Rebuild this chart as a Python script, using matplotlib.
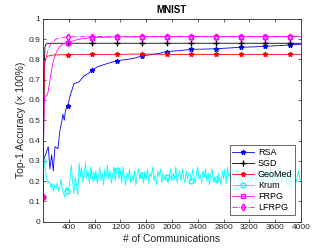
import matplotlib
matplotlib.use("Agg")
import matplotlib.pyplot as plt
import numpy as np

plt.rcParams['font.family'] = ['Liberation Sans', 'DejaVu Sans']

title = "MNIST"
xlabel = "# of Communications"
ylabel = "Top-1 Accuracy (× 100%)"
xticks = [400, 800, 1200, 1600, 2000, 2400, 2800, 3200, 3600, 4000]
yticks = [0, 0.1, 0.2, 0.3, 0.4, 0.5, 0.6, 0.7, 0.8, 0.9, 1.0]
ytick_labels = ["0", "0.1", "0.2", "0.3", "0.4", "0.5", "0.6", "0.7", "0.8", "0.9", "1"]

marker_x = [0, 383, 766, 1149, 1532, 1915, 2298, 2681, 3064, 3447, 3830]

rsa_x = [0, 5, 40, 82, 108, 135, 160, 186, 232, 263, 290, 310, 330, 350, 383, 420, 480, 560,
         640, 700, 766, 850, 950, 1050, 1149, 1300, 1400, 1532, 1700, 1800, 1915, 2100, 2298,
         2500, 2681, 2900, 3064, 3250, 3447, 3650, 3830, 4000]
rsa_y = [0.12, 0.30, 0.33, 0.37, 0.26, 0.33, 0.25, 0.37, 0.36, 0.45, 0.49, 0.53, 0.50, 0.55,
         0.571, 0.62, 0.68, 0.69, 0.72, 0.73, 0.748, 0.765, 0.775, 0.785, 0.794, 0.80, 0.805,
         0.817, 0.825, 0.83, 0.839, 0.843, 0.850, 0.851, 0.853, 0.857, 0.86, 0.862, 0.865,
         0.868, 0.872, 0.875]

sgd_x = [0, 10, 20, 30, 45, 70, 120, 383, 766, 1149, 1532, 1915, 2298, 2681, 3064, 3447, 3830, 4000]
sgd_y = [0.12, 0.40, 0.75, 0.86, 0.875, 0.878, 0.88, 0.88, 0.88, 0.88, 0.88, 0.88, 0.88, 0.88,
         0.88, 0.88, 0.88, 0.88]

geo_x = [0, 10, 20, 35, 60, 150, 383, 766, 1149, 1532, 1915, 2298, 2681, 3064, 3447, 3830, 4000]
geo_y = [0.12, 0.50, 0.75, 0.80, 0.815, 0.822, 0.824, 0.825, 0.825, 0.827, 0.825, 0.825,
         0.825, 0.825, 0.825, 0.825, 0.825]

krum_x = list(range(0, 4001, 20))
krum_y = [
    0.30, 0.28, 0.25, 0.21, 0.19, 0.20, 0.17, 0.19, 0.15, 0.18,
    0.16, 0.19, 0.15, 0.17, 0.21, 0.16, 0.14, 0.12, 0.17, 0.15,
    0.155, 0.21, 0.28, 0.19, 0.14, 0.22, 0.18, 0.13, 0.29, 0.22,
    0.27, 0.19, 0.24, 0.29, 0.21, 0.25, 0.19, 0.27, 0.23, 0.195,
    0.21, 0.25, 0.19, 0.22, 0.27, 0.20, 0.24, 0.18, 0.26, 0.22,
    0.28, 0.21, 0.25, 0.19, 0.23, 0.27, 0.20, 0.255, 0.26, 0.21,
    0.25, 0.19, 0.27, 0.22, 0.18, 0.24, 0.21, 0.26, 0.19, 0.23,
    0.20, 0.25, 0.18, 0.23, 0.26, 0.21, 0.24, 0.228, 0.19, 0.25,
    0.21, 0.26, 0.19, 0.24, 0.22, 0.27, 0.20, 0.23, 0.18, 0.25,
    0.22, 0.26, 0.19, 0.24, 0.21, 0.22, 0.22, 0.19, 0.23, 0.26,
    0.20, 0.24, 0.21, 0.27, 0.19, 0.23, 0.25, 0.20, 0.26, 0.22,
    0.19, 0.25, 0.21, 0.24, 0.235, 0.20, 0.26, 0.22, 0.19, 0.24,
    0.27, 0.21, 0.23, 0.19, 0.25, 0.22, 0.26, 0.20, 0.24, 0.18,
    0.23, 0.26, 0.20, 0.21, 0.21, 0.19, 0.24, 0.22, 0.18, 0.25,
    0.21, 0.26, 0.19, 0.27, 0.22, 0.24, 0.20, 0.25, 0.19, 0.23,
    0.26, 0.21, 0.24, 0.19, 0.25, 0.22, 0.27, 0.20, 0.23, 0.19,
    0.25, 0.21, 0.24, 0.20, 0.26, 0.19, 0.23, 0.25, 0.21, 0.24,
    0.19, 0.26, 0.22, 0.24, 0.20, 0.25, 0.21, 0.27, 0.19, 0.23,
    0.25, 0.20, 0.24, 0.21, 0.26, 0.19, 0.23, 0.22, 0.25, 0.20,
    0.24, 0.19, 0.22, 0.25, 0.21, 0.23, 0.19, 0.22, 0.25, 0.21,
    0.20]

frpg_x = [0, 10, 20, 30, 60, 80, 100, 130, 160, 200, 250, 300, 383, 500, 600, 766, 1149,
          1532, 1915, 2298, 2681, 3064, 3447, 3830, 4000]
frpg_y = [0.12, 0.40, 0.60, 0.62, 0.62, 0.64, 0.68, 0.74, 0.79, 0.83, 0.86, 0.875, 0.882,
          0.895, 0.902, 0.908, 0.911, 0.912, 0.912, 0.912, 0.912, 0.912, 0.912, 0.912, 0.912]

lfrpg_x = [0, 10, 20, 40, 80, 130, 200, 300, 383, 766, 1149, 1532, 1915, 2298, 2681, 3064,
           3447, 3830, 4000]
lfrpg_y = [0.12, 0.70, 0.78, 0.80, 0.85, 0.88, 0.90, 0.908, 0.912, 0.913, 0.913, 0.913,
           0.913, 0.913, 0.913, 0.913, 0.913, 0.913, 0.913]


def mk_idx(xs):
    arr = np.asarray(xs)
    return sorted(set(int(np.argmin(np.abs(arr - m))) for m in marker_x))


fig = plt.figure(figsize=(3.33, 2.49), dpi=100)
ax = fig.add_axes([0.129, 0.110, 0.775, 0.814])

lw = 0.6
ms = 3.5
ax.plot(rsa_x, rsa_y, color='#0000ff', lw=lw, marker='*', ms=ms, markevery=mk_idx(rsa_x), label='RSA')
ax.plot(sgd_x, sgd_y, color='#000000', lw=lw, marker='+', ms=ms + 0.5, markevery=mk_idx(sgd_x), label='SGD')
ax.plot(geo_x, geo_y, color='#ff0000', lw=lw, marker='*', ms=ms, markevery=mk_idx(geo_x), label='GeoMed')
ax.plot(krum_x, krum_y, color='#00ffff', lw=lw, marker='o', ms=ms, mfc='none', markevery=mk_idx(krum_x), label='Krum')
ax.plot(frpg_x, frpg_y, color='#ff00ff', lw=lw, marker='s', ms=ms, mfc='none', markevery=mk_idx(frpg_x), label='FRPG')
ax.plot(lfrpg_x, lfrpg_y, color='#ff00ff', lw=lw, ls='-.', marker='d', ms=ms, mfc='none', markevery=mk_idx(lfrpg_x), label='LFRPG')

ax.set_xlim(0, 4000)
ax.set_ylim(0, 1)
ax.set_xticks(xticks)
ax.set_yticks(yticks)
ax.set_yticklabels(ytick_labels)
gray = '#262626'
ax.tick_params(direction='in', length=2.5, width=0.5, labelsize=6, colors=gray,
               top=True, right=True, pad=2)
for s in ax.spines.values():
    s.set_color(gray)
    s.set_linewidth(0.6)

ax.set_title(title, fontsize=7, fontweight='bold', pad=4)
ax.set_xlabel(xlabel, fontsize=7.5, color=gray, labelpad=2)
ax.set_ylabel(ylabel, fontsize=7.5, color=gray, labelpad=2)

leg = ax.legend(loc='lower right', bbox_to_anchor=(0.977, 0.035), borderaxespad=0,
                fontsize=6.5, frameon=True, fancybox=False, handlelength=2.4,
                handletextpad=0.4, labelspacing=0.22, borderpad=0.3)
leg.get_frame().set_edgecolor(gray)
leg.get_frame().set_linewidth(0.6)

fig.savefig('out.png', dpi=100)
